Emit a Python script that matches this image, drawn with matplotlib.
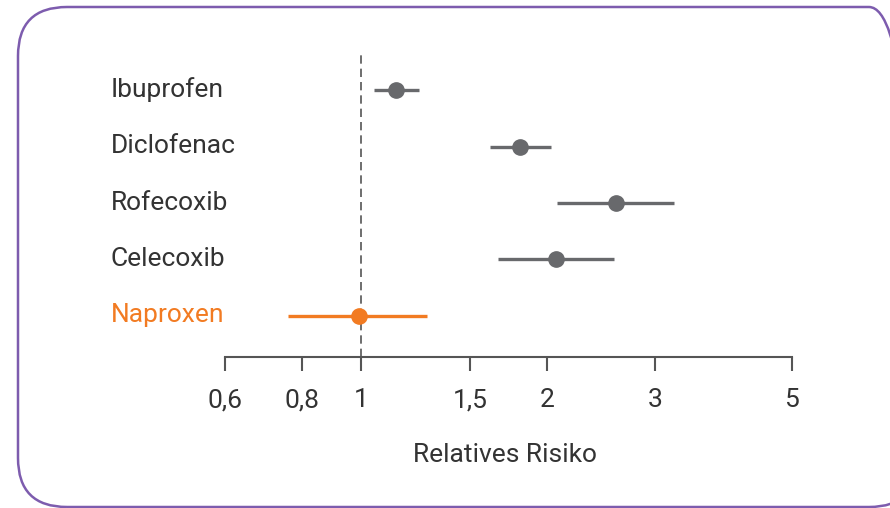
import matplotlib
matplotlib.use("Agg")
import matplotlib.pyplot as plt
from matplotlib.patches import FancyBboxPatch
from matplotlib import transforms

# Relative risk estimates with 95% confidence intervals
drugs = ["Ibuprofen", "Diclofenac", "Rofecoxib", "Celecoxib", "Naproxen"]
rr = [1.14, 1.81, 2.59, 2.07, 0.99]
ci_low = [1.05, 1.62, 2.08, 1.67, 0.76]
ci_high = [1.24, 2.03, 3.22, 2.57, 1.28]
highlight = "Naproxen"

tick_values = [0.6, 0.8, 1, 1.5, 2, 3, 5]
tick_labels = ["0,6", "0,8", "1", "1,5", "2", "3", "5"]

GRAY = "#68696c"
ORANGE = "#f27b22"
TEXT = "#333333"
PURPLE = "#7d5cae"
FONT = ["Roboto", "DejaVu Sans"]
FS = 19

plt.rcParams["font.family"] = FONT

fig = plt.figure(figsize=(8.9, 5.08), dpi=100)

# Rounded frame around the chart
frame = FancyBboxPatch((18 / 890, 1 - 507 / 508), 900 / 890, 500 / 508,
                       boxstyle="round,pad=0,rounding_size=0.055",
                       transform=fig.transFigure, fill=False,
                       edgecolor=PURPLE, linewidth=1.8, mutation_aspect=890 / 508)
fig.patches.append(frame)

ax = fig.add_axes([218.3 / 890, 1 - 357 / 508, 573.4 / 890, 305 / 508])
ax.set_xscale("log")
ax.set_xlim(0.5857, 5)
ax.set_ylim(4.726, -0.673)

for i, name in enumerate(drugs):
    color = ORANGE if name == highlight else GRAY
    ax.plot([ci_low[i], ci_high[i]], [i, i], color=color, lw=2.4,
            solid_capstyle="butt", zorder=3)
    ax.plot(rr[i], i, "o", color=color, markersize=11, zorder=4)

ax.axvline(1, color="#555555", lw=1.2, ls=(0, (5, 3)), zorder=2)

for side in ["top", "right", "left"]:
    ax.spines[side].set_visible(False)
ax.spines["bottom"].set_color("#555555")
ax.spines["bottom"].set_linewidth(1.5)
ax.spines["bottom"].set_bounds(tick_values[0], tick_values[-1])

ax.set_yticks([])
ax.set_xticks(tick_values)
ax.set_xticklabels(tick_labels)
ax.xaxis.set_minor_locator(matplotlib.ticker.NullLocator())
ax.tick_params(axis="x", direction="out", length=10, width=1.5, color="#555555",
               labelsize=FS, labelcolor=TEXT, pad=12.5)

ax.set_xlabel("Relatives Risiko", fontsize=FS, color=TEXT, labelpad=22.5)

# Drug names, left-aligned in the margin
trans = transforms.blended_transform_factory(fig.transFigure, ax.transData)
trans = transforms.offset_copy(trans, fig=fig, y=-6.5, units="dots")
for i, name in enumerate(drugs):
    color = ORANGE if name == highlight else TEXT
    ax.text(111 / 890, i, name, transform=trans, ha="left", va="baseline",
            fontsize=FS, color=color, clip_on=False)

fig.savefig("out.png", dpi=100)
